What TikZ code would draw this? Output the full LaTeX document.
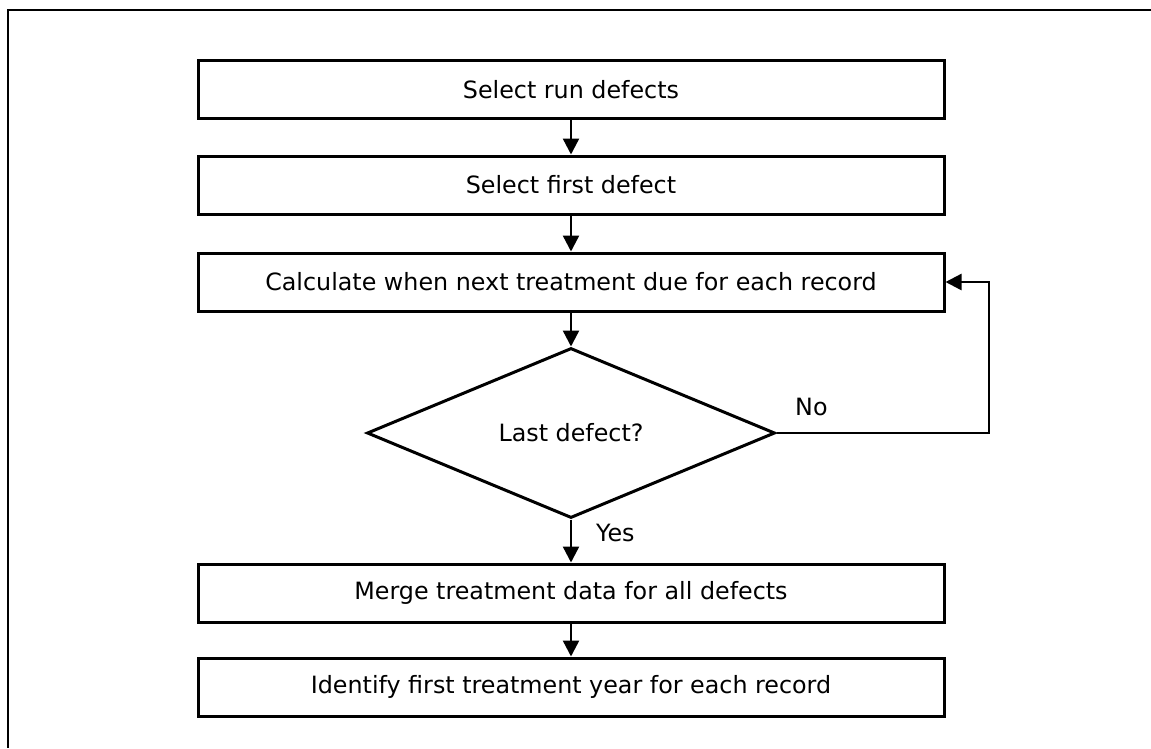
\documentclass[tikz,border=0pt]{standalone}
\usepackage{fontspec}
\setmainfont{DejaVu Sans}
\usetikzlibrary{arrows.meta,shapes.geometric}

\tikzset{
  procbox/.style={draw=black, line width=3pt, rectangle,
    minimum width=746pt, minimum height=58pt, inner sep=0pt},
  decision/.style={draw=black, line width=3pt, diamond, aspect=2.4,
    minimum width=408pt, minimum height=170pt, inner sep=0pt},
  flowarrow/.style={draw=black, line width=2.4pt,
    -{Triangle[width=16pt,length=16pt]}},
  flowlabel/.style={anchor=west, inner sep=0pt}
}

\begin{document}
\begin{tikzpicture}[x=1pt, y=-1pt, font=\fontsize{23.8}{28}\selectfont]
  \useasboundingbox (0,0) rectangle (1151,748);

  % ---------- outer frame (cut off at right and bottom) ----------
  \draw[black, line width=2.6pt] (1151,10) -- (8,10) -- (8,748);

  % ---------- process steps ----------
  \node[procbox] (runsel)  at (571,89.5) {Select run defects};
  \node[procbox] (firstsel) at (571,185) {Select first defect};
  \node[procbox] (calc)    at (571,282) {Calculate when next treatment due for each record};
  \node[decision] (lastdef) at (571,433) {Last defect?};
  \node[procbox] (merge)   at (571,593) {Merge treatment data for all defects};
  \node[procbox] (ident)   at (571,687) {Identify first treatment year for each record};

  % ---------- connectors ----------
  \draw[flowarrow] (runsel) -- (firstsel);
  \draw[flowarrow] (firstsel) -- (calc);
  \draw[flowarrow] (calc) -- (lastdef);
  \draw[flowarrow] (lastdef) -- (merge);
  \draw[flowarrow] (merge) -- (ident);

  % loop back when more defects remain
  \coordinate (loopturn) at (989,433);
  \draw[flowarrow] (lastdef.east) -- (loopturn) |- (calc.east);

  \node[flowlabel] (nolbl)  at (795,407) {No};
  \node[flowlabel] (yeslbl) at (596,533) {Yes};
\end{tikzpicture}
\end{document}
